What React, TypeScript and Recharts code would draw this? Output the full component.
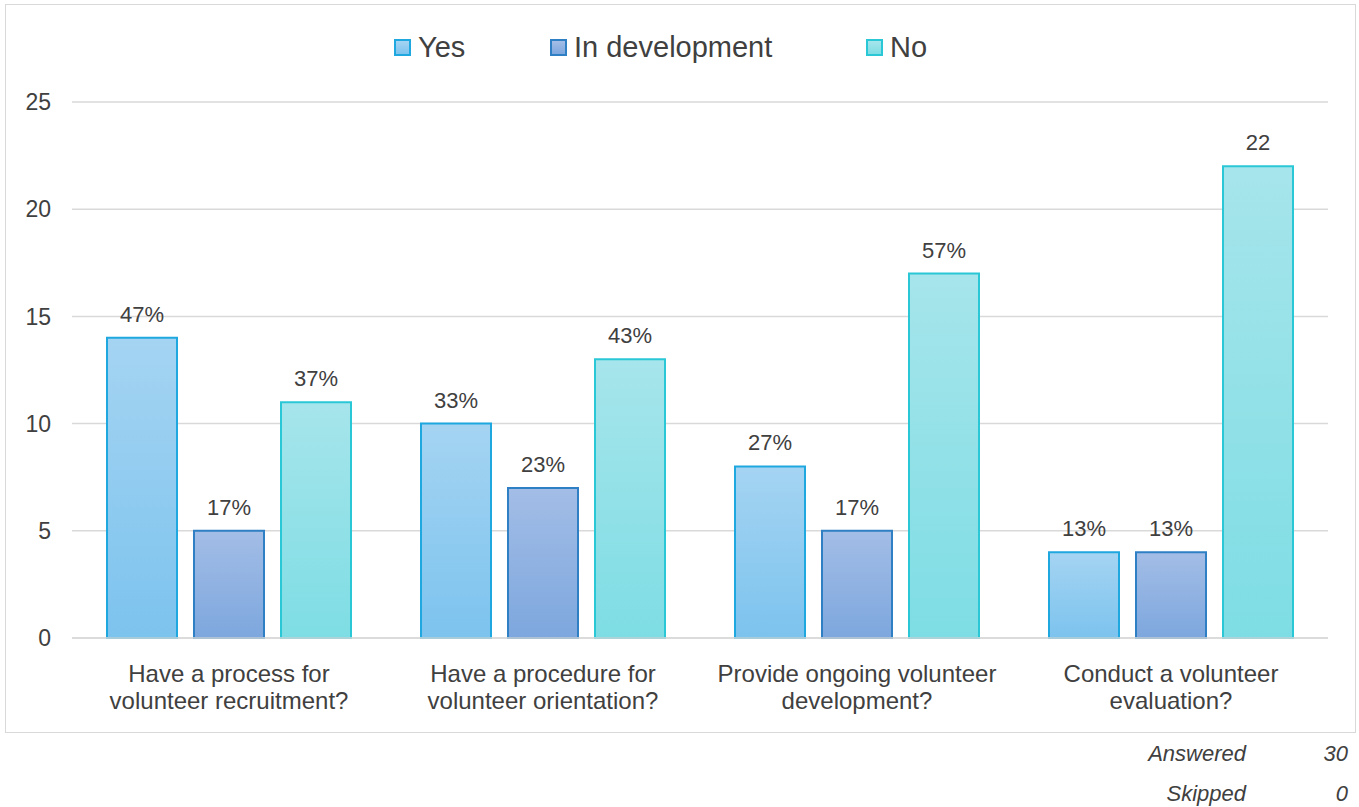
import { BarChart, Bar, XAxis, YAxis, CartesianGrid, LabelList } from 'recharts';

const categories = [
    'Have a process for\nvolunteer recruitment?',
    'Have a procedure for\nvolunteer orientation?',
    'Provide ongoing volunteer\ndevelopment?',
    'Conduct a volunteer\nevaluation?'
];
const yesValues = [14, 10, 8, 4];
const devValues = [5, 7, 5, 4];
const noValues = [11, 13, 17, 22];
const yesLabels = ['47%', '33%', '27%', '13%'];
const devLabels = ['17%', '23%', '17%', '13%'];
const noLabels = ['37%', '43%', '57%', '22'];
const yTicks = [0, 5, 10, 15, 20, 25];
const seriesNames = ['Yes', 'In development', 'No'];
const summary = [
    { label: 'Answered', value: '30' },
    { label: 'Skipped', value: '0' }
];

const data = categories.map((name, i) => ({
    name,
    yes: yesValues[i],
    dev: devValues[i],
    no: noValues[i],
    yesLabel: yesLabels[i],
    devLabel: devLabels[i],
    noLabel: noLabels[i]
}));

const FONT = '"Liberation Sans", Arial, sans-serif';
const TEXT = '#404040';

// colours per series: [top, bottom, stroke]
const palette = [
    ['#a5d4f2', '#7cc3ee', '#1fa7df'],
    ['#a3bde6', '#7da7de', '#2e7fc3'],
    ['#a6e5eb', '#7edde4', '#2ac8d7']
];

const CategoryTick = (props: any) => {
    const { x, y, payload } = props;
    const lines = String(payload.value).split('\n');
    return (
        <text x={x} y={y} textAnchor="middle" fill={TEXT} fontSize={24} fontFamily={FONT}>
            {lines.map((l, i) => (
                <tspan key={i} x={x} dy={i === 0 ? 36 : 27}>{l}</tspan>
            ))}
        </text>
    );
};

export default function App() {
    return (
        <div style={{ position: 'absolute', left: 0, top: 0, width: 1359, height: 807, background: '#fff', fontFamily: FONT }}>
            <div style={{ position: 'absolute', left: 5, top: 4, width: 1349, height: 727, border: '1.5px solid #d9d9d9' }} />

            {/* legend */}
            <div style={{ position: 'absolute', top: 29, left: 0, width: 1359, height: 36 }}>
                {seriesNames.map((n, i) => (
                    <div key={n} style={{ position: 'absolute', left: [394, 550, 866][i], top: 0, display: 'flex', alignItems: 'center', height: 36 }}>
                        <div style={{
                            width: 13, height: 13,
                            border: `2px solid ${palette[i][2]}`,
                            background: `linear-gradient(${palette[i][0]}, ${palette[i][1]})`,
                            marginRight: 7
                        }} />
                        <span style={{ fontSize: 29, color: TEXT }}>{n}</span>
                    </div>
                ))}
            </div>

            <div style={{ position: 'absolute', left: 0, top: 0 }}>
                <BarChart width={1359} height={740} data={data}
                    margin={{ top: 102, right: 31, left: 0, bottom: 22 }}
                    barSize={70} barGap={17}>
                    <defs>
                        {palette.map((p, i) => (
                            <linearGradient key={i} id={`grad${i}`} x1="0" y1="0" x2="0" y2="1">
                                <stop offset="0%" stopColor={p[0]} />
                                <stop offset="100%" stopColor={p[1]} />
                            </linearGradient>
                        ))}
                    </defs>
                    <CartesianGrid vertical={false} stroke="#d9d9d9" strokeWidth={1.5} />
                    <XAxis dataKey="name" height={80} tickLine={false} axisLine={{ stroke: '#d9d9d9', strokeWidth: 1.5 }}
                        tick={<CategoryTick />} interval={0} />
                    <YAxis width={72} domain={[0, 25]} ticks={yTicks} tickLine={false} axisLine={false}
                        tickSize={0} tickMargin={21}
                        tick={{ fill: TEXT, fontSize: 23, fontFamily: FONT }} />
                    <Bar dataKey="yes" fill="url(#grad0)" stroke={palette[0][2]} strokeWidth={2} isAnimationActive={false}>
                        <LabelList dataKey="yesLabel" position="top" offset={16} fill={TEXT} fontSize={22} fontFamily={FONT} />
                    </Bar>
                    <Bar dataKey="dev" fill="url(#grad1)" stroke={palette[1][2]} strokeWidth={2} isAnimationActive={false}>
                        <LabelList dataKey="devLabel" position="top" offset={16} fill={TEXT} fontSize={22} fontFamily={FONT} />
                    </Bar>
                    <Bar dataKey="no" fill="url(#grad2)" stroke={palette[2][2]} strokeWidth={2} isAnimationActive={false}>
                        <LabelList dataKey="noLabel" position="top" offset={16} fill={TEXT} fontSize={22} fontFamily={FONT} />
                    </Bar>
                </BarChart>
            </div>

            {/* survey summary */}
            {summary.map((s, i) => (
                <div key={s.label} style={{ position: 'absolute', top: 741 + i * 40, left: 0, width: 1359, fontSize: 22, fontStyle: 'italic', color: TEXT }}>
                    <span style={{ position: 'absolute', right: 1359 - 1246, whiteSpace: 'nowrap' }}>{s.label}</span>
                    <span style={{ position: 'absolute', right: 1359 - 1348, whiteSpace: 'nowrap' }}>{s.value}</span>
                </div>
            ))}
        </div>
    );
}
